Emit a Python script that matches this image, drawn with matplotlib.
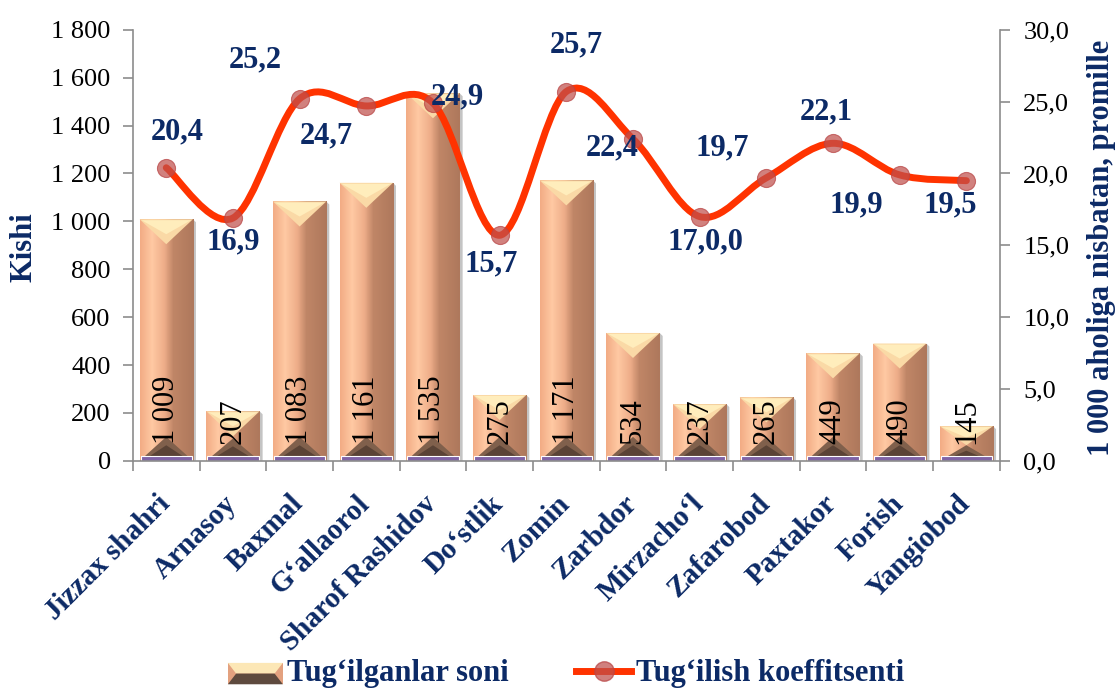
import numpy as np
import matplotlib
matplotlib.use('Agg')
import matplotlib.pyplot as plt
import matplotlib.transforms as mtransforms
from matplotlib.path import Path
from matplotlib.patches import PathPatch, Polygon, Rectangle
from matplotlib.colors import LinearSegmentedColormap
from matplotlib.legend_handler import HandlerBase
from matplotlib.lines import Line2D
from matplotlib.ticker import FuncFormatter, MultipleLocator

plt.rcParams['font.family'] = ['Liberation Serif', 'DejaVu Serif']

# data
districts = ['Jizzax shahri', 'Arnasoy', 'Baxmal', 'G‘allaorol', 'Sharof Rashidov',
             'Do‘stlik', 'Zomin', 'Zarbdor', 'Mirzacho‘l', 'Zafarobod', 'Paxtakor',
             'Forish', 'Yangiobod']
births = [1009, 207, 1083, 1161, 1535, 275, 1171, 534, 237, 265, 449, 490, 145]
rate = [20.4, 16.9, 25.2, 24.7, 24.9, 15.7, 25.7, 22.4, 17.0, 19.7, 22.1, 19.9, 19.5]
rate_labels = ['20,4', '16,9', '25,2', '24,7', '24,9', '15,7', '25,7', '22,4',
               '17,0,0', '19,7', '22,1', '19,9', '19,5']
# where each rate label sits relative to its point, in pixels (x right, y down)
label_offsets = [(11, -36), (0, 24), (-44, -39), (-40, 30), (24, -6), (-8, 29),
                 (10, -47), (-21, 9), (6, 25), (-44, -30), (-7, -31), (-43, 30), (-16, 24)]

navy = '#0C2A66'
gray = '#8C8C8C'

fig = plt.figure(figsize=(11.17, 6.93), dpi=100)
ax = fig.add_axes([0.119, 0.335, 0.776, 0.622])
ax2 = ax.twinx()

x = np.arange(len(districts))
bw = 0.8
bars = ax.bar(x, births, width=bw, color='none', edgecolor='none', zorder=2)

ax.set_xlim(-0.5, len(districts) - 0.5)
ax.set_ylim(0, 1800)

# pixel -> data helpers for the bevel
ax_h_px = 0.622 * 693
ax_w_px = 0.776 * 1117
dy = 1800 / ax_h_px
dx = len(districts) / ax_w_px

grad = LinearSegmentedColormap.from_list(
    'bar', [(0, '#F2AC85'), (0.22, '#FFC9A3'), (0.45, '#EEAD89'),
            (0.62, '#C08667'), (1, '#AE785C')])
gimg = grad(np.linspace(0, 1, 64))[None, :, :3]

for b in bars:
    x0, w, h = b.get_x(), b.get_width(), b.get_height()
    x1 = x0 + w
    xc = x0 + w / 2
    # little shadow to the right
    ax.add_patch(Polygon([(x1, 0), (x1 + 3 * dx, 0), (x1 + 3 * dx, h - 3 * dy), (x1, h)],
                         closed=True, fc='#C4C4C4', ec='none', zorder=1.5))
    im = ax.imshow(gimg, extent=[x0, x1, 0, h], aspect='auto', zorder=2, interpolation='bilinear')
    im.set_clip_path(b)
    dtop = min(25 * dy, h * 0.55)
    dbot = min(24 * dy, h * 0.45)
    ax.add_patch(Polygon([(x0, h), (x1, h), (xc, h - dtop)], closed=True,
                         fc='#FAD9A6', ec='none', zorder=2.1))
    ax.add_patch(Polygon([(x0 + 2 * dx, h - 1 * dy), (x1 - 2 * dx, h - 1 * dy),
                          (xc, h - dtop * 0.6)], closed=True,
                         fc='#FFEDBC', ec='none', zorder=2.2))
    ax.add_patch(Polygon([(x0, 0), (x1, 0), (xc, dbot)], closed=True,
                         fc='#80604C', ec='none', zorder=2.1))
    ax.add_patch(Polygon([(x0 + 3 * dx, 0), (x1 - 3 * dx, 0), (xc, dbot * 0.65)], closed=True,
                         fc='#5A4336', ec='none', zorder=2.2))
    ax.add_patch(Rectangle((x0 + 1 * dx, 0), w - 2 * dx, 5 * dy, fc='#7F63A6',
                           ec='white', lw=0.8, zorder=2.3, clip_on=False))

ax.set_xlim(-0.5, len(districts) - 0.5)
ax.set_ylim(0, 1800)

for xi, v in zip(x, births):
    ax.text(xi, 70, f'{v:,}'.replace(',', ' '), rotation=90, ha='center', va='bottom',
            fontsize=22, color='black', zorder=3)

# smoothed rate line (cubic bezier through the points)
pts = np.column_stack([x, rate]).astype(float)
n = len(pts)
verts = [pts[0]]
codes = [Path.MOVETO]
for i in range(n - 1):
    p0 = pts[i - 1] if i > 0 else pts[i]
    p1 = pts[i]
    p2 = pts[i + 1]
    p3 = pts[i + 2] if i + 2 < n else pts[i + 1]
    verts += [p1 + (p2 - p0) / 6, p2 - (p3 - p1) / 6, p2]
    codes += [Path.CURVE4] * 3
ax2.add_patch(PathPatch(Path(verts, codes), fill=False, ec='#FF3300', lw=5,
                        capstyle='round', joinstyle='round', zorder=3))
ax2.plot(x, rate, 'o', ms=13, mfc='#C0504D', mec='#B84444', mew=0.8, alpha=0.72, zorder=4)

for xi, v, lab, (ox, oy) in zip(x, rate, rate_labels, label_offsets):
    ax2.annotate(lab, (xi, v), xytext=(ox, -oy), textcoords='offset pixels',
                 ha='center', va='center', fontsize=22, fontweight='bold', color=navy, zorder=5)

ax2.set_ylim(0, 30)

# axes styling
for a in (ax, ax2):
    a.spines['top'].set_visible(False)
    for s in ('left', 'right', 'bottom'):
        a.spines[s].set_color(gray)
        a.spines[s].set_linewidth(1.2)
ax.spines['right'].set_visible(False)
ax2.spines['left'].set_visible(False)
ax2.spines['bottom'].set_visible(False)

ax.yaxis.set_major_locator(MultipleLocator(200))
ax.yaxis.set_major_formatter(FuncFormatter(lambda v, p: f'{int(v):,}'.replace(',', ' ')))
ax2.yaxis.set_major_locator(MultipleLocator(5))
ax2.yaxis.set_major_formatter(FuncFormatter(lambda v, p: f'{v:.1f}'.replace('.', ',')))
ax.tick_params(axis='y', length=7, width=1.2, color=gray, labelsize=19, pad=9)
ax2.tick_params(axis='y', length=7, width=1.2, color=gray, labelsize=19, pad=10)

ax.set_xticks(x)
ax.set_xticks(np.arange(len(districts) + 1) - 0.5, minor=True)
ax.tick_params(axis='x', which='major', length=0, pad=21)
ax.tick_params(axis='x', which='minor', length=7, width=1.2, color=gray)
ax.set_xticklabels(districts, rotation=45, ha='right', va='top', fontsize=21,
                   fontweight='bold', color=navy)
shift = mtransforms.ScaledTranslation(9 / 100, 0, fig.dpi_scale_trans)
for lbl in ax.get_xticklabels():
    lbl.set_transform(lbl.get_transform() + shift)

fig.text(24 / 1117, 1 - 247 / 693, 'Kishi', rotation=90, ha='center', va='center',
         fontsize=22, fontweight='bold', color=navy)
fig.text(1102 / 1117, 1 - 248 / 693, '1 000 aholiga nisbatan, promille', rotation=90,
         ha='center', va='center', fontsize=22, fontweight='bold', color=navy)


class BevelHandler(HandlerBase):
    def create_artists(self, legend, orig_handle, xdescent, ydescent, width, height, fontsize, trans):
        x0, y0 = -xdescent, -ydescent - 2
        h = height
        r = Rectangle((x0, y0), width, h, fc='#E3A17F', ec='none', transform=trans)
        top = Polygon([(x0, y0 + h), (x0 + width, y0 + h), (x0 + width * 0.85, y0 + h * 0.5),
                       (x0 + width * 0.15, y0 + h * 0.5)], fc='#FCE7B6', ec='none', transform=trans)
        bot = Polygon([(x0, y0), (x0 + width, y0), (x0 + width * 0.85, y0 + h * 0.5),
                       (x0 + width * 0.15, y0 + h * 0.5)], fc='#5E4A3E', ec='none', transform=trans)
        return [r, top, bot]


bar_handle = Rectangle((0, 0), 1, 1)
line_handle = Line2D([], [], color='#FF3300', lw=5, marker='o', ms=14,
                     mfc=(0.75, 0.31, 0.3, 0.72), mec=(0.72, 0.27, 0.27, 0.72))
fig.legend([bar_handle, line_handle], ['Tug‘ilganlar soni', 'Tug‘ilish koeffitsenti'],
           loc='center left', bbox_to_anchor=(0.204, 1 - 674 / 693), ncol=2, frameon=False,
           handler_map={Rectangle: BevelHandler()}, handlelength=1.8, handletextpad=0.15,
           columnspacing=2.2, borderpad=0, borderaxespad=0,
           prop={'family': 'Liberation Serif', 'weight': 'bold', 'size': 22},
           labelcolor=navy)

fig.savefig('out.png', dpi=100)
